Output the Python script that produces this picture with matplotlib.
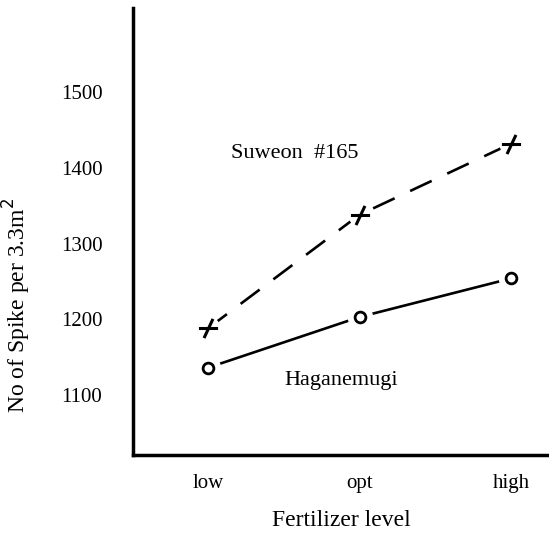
import matplotlib.pyplot as plt
from matplotlib.markers import MarkerStyle
from matplotlib.transforms import Affine2D

# fertilizer levels and spike counts per 3.3 m2
levels = ['low', 'opt', 'high']
suweon = [1188, 1338, 1432]
haganemugi = [1136, 1203, 1254]
yticks = [1100, 1200, 1300, 1400, 1500]

plt.rcParams['font.family'] = ['Liberation Serif', 'DejaVu Serif']

fig = plt.figure(figsize=(5.49, 5.37), dpi=100)
ax = fig.add_axes([0.242, 0.153, 0.758, 0.832])

x = list(range(len(levels)))
slanted_plus = MarkerStyle('+', transform=Affine2D().skew_deg(25, 0))

# white halos so the lines stop short of the markers
ax.plot(x, suweon, 'k', lw=1.9, dashes=(9, 6.5), zorder=2)
ax.plot(x, haganemugi, 'k', lw=1.9, zorder=2)
ax.scatter(x, suweon, s=260, c='white', zorder=3)
ax.scatter(x, haganemugi, s=300, c='white', zorder=3)
ax.scatter(x, suweon, s=190, marker=slanted_plus, c='black', linewidths=2.2, zorder=4)
ax.scatter(x, haganemugi, s=60, marker='o', facecolors='white', edgecolors='black',
           linewidths=2, zorder=4)

ax.text(0.57, 1419, 'Suweon  #165', fontsize=16, ha='center', va='center')
ax.text(0.88, 1119, 'Haganemugi', fontsize=16, ha='center', va='center')

ax.set_xlim(-0.495, 2.25)
ax.set_ylim(1021, 1611)
ax.set_xticks(x)
ax.set_xticklabels(levels)
ax.set_yticks(yticks)
ax.tick_params(length=0, labelsize=15)
ax.tick_params(axis='y', pad=22)
ax.tick_params(axis='x', pad=14)
ax.set_xlabel('Fertilizer level', fontsize=17, labelpad=12)
ax.set_ylabel('No of Spike per 3.3m$^2$', fontsize=17)
ax.yaxis.set_label_coords(-0.24, 0.335)

for side in ['top', 'right']:
    ax.spines[side].set_visible(False)
for side in ['left', 'bottom']:
    ax.spines[side].set_linewidth(2.5)

fig.savefig('out.png', dpi=100)
